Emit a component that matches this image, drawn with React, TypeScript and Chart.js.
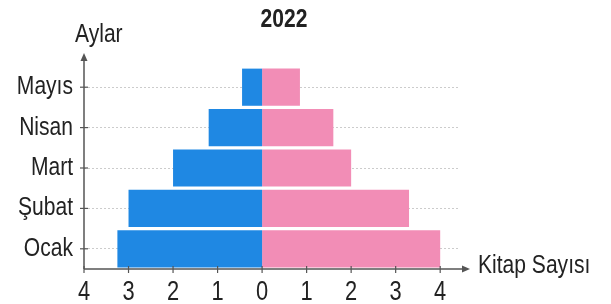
import React, { useEffect, useRef } from "react";
import { Chart, registerables } from "chart.js";

Chart.register(...registerables);

const months = ["Mayıs", "Nisan", "Mart", "Şubat", "Ocak"];
const blueValues = [0.45, 1.2, 2, 3, 3.25];
const pinkValues = [0.85, 1.6, 2, 3.3, 4];
const xTickValues = [-4, -3, -2, -1, 0, 1, 2, 3, 4];
const titleText = "2022";
const yAxisTitle = "Aylar";
const xAxisTitle = "Kitap Sayısı";

const FONT = "'Liberation Sans', Arial, sans-serif";
const AXIS = "#555555";
const TEXT = "#222222";
const SX = 0.81;

function drawText(ctx: any, text: string, x: number, y: number, align: string, font: string) {
  ctx.save();
  ctx.translate(x, y);
  ctx.scale(SX, 1);
  ctx.font = font;
  ctx.textAlign = align;
  ctx.textBaseline = "alphabetic";
  ctx.fillText(text, 0, 0);
  ctx.restore();
}

const decor = {
  id: "decor",
  afterDatasetsDraw(chart: any) {
    const { ctx, chartArea, scales } = chart;
    const x = scales.x;
    const y = scales.y;
    const left = chartArea.left;
    const bottom = chartArea.bottom;
    ctx.save();
    ctx.strokeStyle = AXIS;
    ctx.fillStyle = AXIS;
    ctx.lineWidth = 1.5;
    // x axis
    const xEnd = chartArea.right + 10;
    ctx.beginPath();
    ctx.moveTo(left, bottom);
    ctx.lineTo(xEnd - 4, bottom);
    ctx.stroke();
    ctx.beginPath();
    ctx.moveTo(xEnd + 2, bottom);
    ctx.lineTo(xEnd - 6, bottom - 3.5);
    ctx.lineTo(xEnd - 6, bottom + 3.5);
    ctx.closePath();
    ctx.fill();
    // y axis
    const yEnd = chartArea.top - 12;
    ctx.beginPath();
    ctx.moveTo(left, bottom);
    ctx.lineTo(left, yEnd + 4);
    ctx.stroke();
    ctx.beginPath();
    ctx.moveTo(left, yEnd - 2);
    ctx.lineTo(left - 3.5, yEnd + 6);
    ctx.lineTo(left + 3.5, yEnd + 6);
    ctx.closePath();
    ctx.fill();
    // tick marks
    ctx.lineWidth = 1.2;
    xTickValues.forEach((v) => {
      const px = x.getPixelForValue(v);
      ctx.beginPath();
      ctx.moveTo(px, bottom - 3);
      ctx.lineTo(px, bottom + 4);
      ctx.stroke();
    });
    months.forEach((_, i) => {
      const py = y.getPixelForValue(i);
      ctx.beginPath();
      ctx.moveTo(left - 4, py);
      ctx.lineTo(left + 4, py);
      ctx.stroke();
    });
    // tick labels
    ctx.fillStyle = TEXT;
    const tickFont = `27px ${FONT}`;
    xTickValues.forEach((v) => {
      const px = x.getPixelForValue(v);
      drawText(ctx, String(Math.abs(v)), px, bottom + 31, "center", tickFont);
    });
    months.forEach((m, i) => {
      const py = y.getPixelForValue(i);
      drawText(ctx, m, left - 11, py + 7, "right", `26px ${FONT}`);
    });
    // titles
    drawText(ctx, titleText, 284, 27, "center", `bold 26px ${FONT}`);
    drawText(ctx, yAxisTitle, 75, 42, "left", `26px ${FONT}`);
    drawText(ctx, xAxisTitle, 478, bottom + 4, "left", `26px ${FONT}`);
    ctx.restore();
  },
};

export default function App() {
  const ref = useRef<HTMLCanvasElement>(null);
  useEffect(() => {
    if (!ref.current) return;
    const chart = new Chart(ref.current, {
      type: "bar",
      data: {
        labels: months,
        datasets: [
          {
            label: "blue",
            data: blueValues.map((v) => -v),
            backgroundColor: "#1f88e3",
            categoryPercentage: 0.92,
            barPercentage: 1,
          },
          {
            label: "pink",
            data: pinkValues,
            backgroundColor: "#f28db6",
            categoryPercentage: 0.92,
            barPercentage: 1,
          },
        ],
      },
      plugins: [decor],
      options: {
        indexAxis: "y",
        animation: false,
        responsive: false,
        layout: { padding: { top: 67, right: 153, left: 0, bottom: 0 } },
        plugins: {
          legend: { display: false },
          tooltip: { enabled: false },
          title: { display: false },
        },
        scales: {
          x: {
            type: "linear",
            stacked: true,
            min: -4,
            max: 4.4,
            grid: { display: false, drawTicks: false },
            border: { display: false },
            afterBuildTicks: (s: any) => {
              s.ticks = xTickValues.map((v) => ({ value: v }));
            },
            afterFit: (s: any) => {
              s.height = 304 - 269;
            },
            ticks: { display: false },
          },
          y: {
            type: "category",
            stacked: true,
            offset: true,
            grid: {
              display: true,
              offset: false,
              drawTicks: false,
              color: "#cccccc",
              lineWidth: 1,
            },
            border: { display: false, dash: [2, 2] },
            afterFit: (s: any) => {
              s.width = 84;
            },
            ticks: { display: false },
          },
        },
      },
    } as any);
    return () => chart.destroy();
  }, []);
  return (
    <div style={{ position: "fixed", left: 0, top: 0, width: 611, height: 304, background: "#fff" }}>
      <canvas ref={ref} width={611} height={304} style={{ display: "block" }} />
    </div>
  );
}
